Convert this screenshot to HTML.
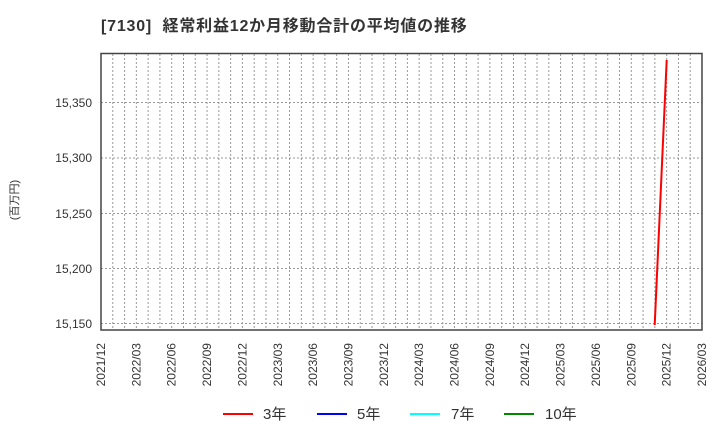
<!DOCTYPE html>
<html><head><meta charset="utf-8"><style>
body{margin:0;background:#fff;}
svg text{font-family:"Liberation Sans","Noto Sans CJK JP",sans-serif;fill:#333;}
</style></head><body>
<svg width="720" height="440" xmlns="http://www.w3.org/2000/svg">
<text x="101" y="31" font-size="16" font-weight="bold" letter-spacing="0.8">[7130]&#160;&#160;経常利益12か月移動合計の平均値の推移</text>
<g id="vg" stroke="#999" stroke-dasharray="2,2" stroke-width="1"></g>
<g stroke="#999" stroke-dasharray="2,2" stroke-width="1">
<line x1="101" x2="702" y1="102.5" y2="102.5"/>
<line x1="101" x2="702" y1="158" y2="158"/>
<line x1="101" x2="702" y1="213.5" y2="213.5"/>
<line x1="101" x2="702" y1="268.5" y2="268.5"/>
<line x1="101" x2="702" y1="323.5" y2="323.5"/>
</g>
<rect x="101" y="53.5" width="601" height="276.5" fill="none" stroke="#444" stroke-width="1.5"/>
<g font-size="12" text-anchor="end">
<text x="92" y="107">15,350</text>
<text x="92" y="162">15,300</text>
<text x="92" y="218">15,250</text>
<text x="92" y="273">15,200</text>
<text x="92" y="328">15,150</text>
</g>
<text transform="translate(18,200) rotate(-90)" font-size="11" text-anchor="middle">(百万円)</text>
<g id="xl" font-size="12" text-anchor="end"></g>
<line x1="654.7" y1="325" x2="666.7" y2="60" stroke="#f00" stroke-width="2"/>
<g font-size="15">
<line x1="223" x2="253" y1="414" y2="414" stroke="#f00" stroke-width="2"/><text x="263" y="419">3年</text>
<line x1="317" x2="347" y1="414" y2="414" stroke="#00f" stroke-width="2"/><text x="357" y="419">5年</text>
<line x1="410" x2="440" y1="414" y2="414" stroke="#0ff" stroke-width="2"/><text x="451" y="419">7年</text>
<line x1="504" x2="534" y1="414" y2="414" stroke="#080" stroke-width="2"/><text x="545" y="419">10年</text>
</g>
</svg>
<script>
var ns="http://www.w3.org/2000/svg",vg=document.getElementById('vg'),xl=document.getElementById('xl');
for(var i=1;i<51;i++){var x=101+i*601/51;var l=document.createElementNS(ns,'line');l.setAttribute('x1',x);l.setAttribute('x2',x);l.setAttribute('y1',54);l.setAttribute('y2',330);vg.appendChild(l);}
var labs=[];var y=2021,m=12;for(var k=0;k<18;k++){labs.push(y+'/'+(m<10?'0':'')+m);m+=3;if(m>12){m-=12;y++;}}
labs.forEach(function(s,k){var x=101+k*601/17+4;var t=document.createElementNS(ns,'text');t.setAttribute('transform','translate('+x+',343) rotate(-90)');t.textContent=s;xl.appendChild(t);});
</script>
</body></html>
